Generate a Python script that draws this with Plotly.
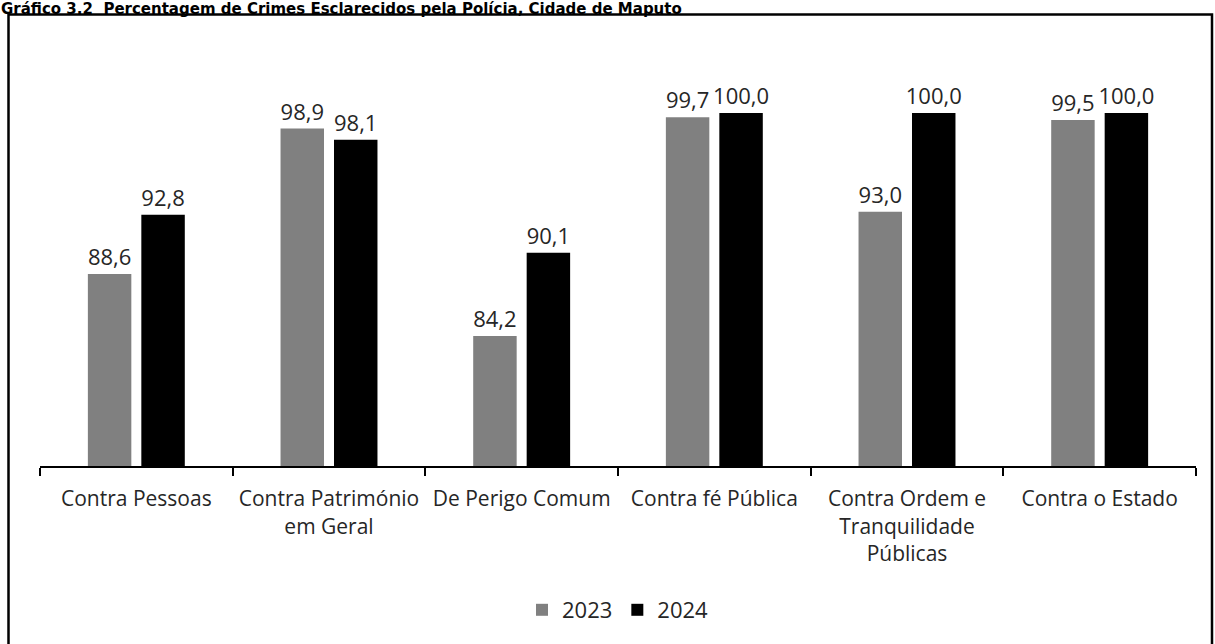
import plotly.graph_objects as go

categories = ["Contra Pessoas", "Contra Património<br>em Geral", "De Perigo Comum",
              "Contra fé Pública", "Contra Ordem e<br>Tranquilidade<br>Públicas", "Contra o Estado"]
values_2023 = [88.6, 98.9, 84.2, 99.7, 93.0, 99.5]
values_2024 = [92.8, 98.1, 90.1, 100.0, 100.0, 100.0]
series_names = ["2023", "2024"]
title_text = "Gráfico 3.2  Percentagem de Crimes Esclarecidos pela Polícia, Cidade de Maputo"

W, H = 1215, 644
L, R, T, B = 40, 19, 113, 178
pw, ph = W - L - R, H - T - B

def px_x(x):
    return (x - L) / pw

def px_y(y):
    return (H - B - y) / ph

def fmt(v):
    return f"{v:.1f}".replace(".", ",")

font_main = "Open Sans, Noto Sans, sans-serif"

fig = go.Figure()
for name, vals, col in [(series_names[0], values_2023, "#808080"), (series_names[1], values_2024, "#000000")]:
    fig.add_trace(go.Bar(
        x=categories, y=vals, name=name, marker=dict(color=col, line=dict(width=0)),
        text=[fmt(v) for v in vals], textposition="outside", cliponaxis=False,
        constraintext="none",
        textfont=dict(family=font_main, size=22, color="#262626"),
    ))

fig.update_layout(
    width=W, height=H, margin=dict(l=L, r=R, t=T, b=B),
    paper_bgcolor="white", plot_bgcolor="white",
    barmode="group", bargap=0.445, bargroupgap=0.187,
    showlegend=True,
    legend=dict(orientation="h", x=0.5, xanchor="center", y=px_y(610), yanchor="middle",
                font=dict(family=font_main, size=22, color="#262626"),
                traceorder="normal"),
    xaxis=dict(showline=True, linecolor="#000000", linewidth=2, ticks="outside",
               tickson="boundaries", ticklen=8, tickcolor="#000000", tickwidth=2,
               ticklabelstandoff=13,
               tickfont=dict(family=font_main, size=21, color="#262626"),
               showgrid=False, fixedrange=True),
    yaxis=dict(range=[75, 100], visible=False, showgrid=False, fixedrange=True),
    annotations=[dict(text="<b>" + title_text + "</b>", xref="paper", yref="paper",
                      x=px_x(0), y=px_y(8.5), xanchor="left", yanchor="middle", showarrow=False,
                      borderpad=0,
                      font=dict(family="DejaVu Sans, Verdana, sans-serif", size=15, color="#000000"))],
    shapes=[dict(type="rect", xref="paper", yref="paper",
                 x0=px_x(8.5), x1=px_x(1212), y0=px_y(670), y1=px_y(14.5),
                 line=dict(color="#000000", width=2.5))],
)

fig.write_html("out.html", config={"displayModeBar": False},
               post_script="document.body.style.margin='0';document.body.style.overflow='hidden';")
